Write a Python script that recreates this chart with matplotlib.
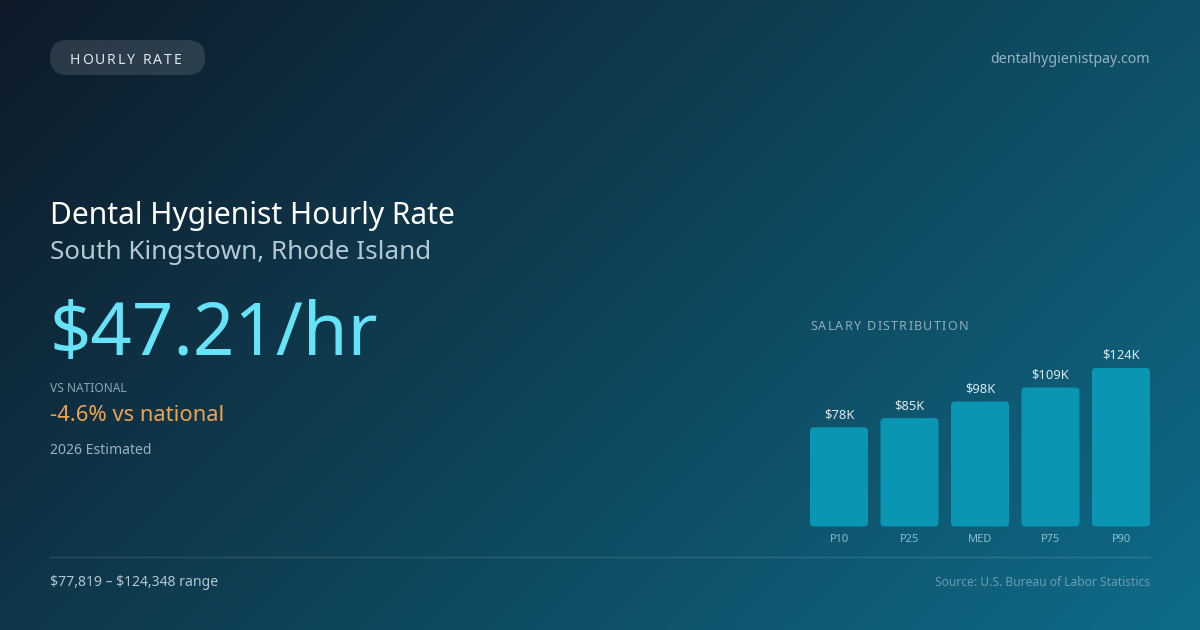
import numpy as np
import matplotlib
matplotlib.use("Agg")
import matplotlib.pyplot as plt
from matplotlib.patches import FancyBboxPatch
from matplotlib.font_manager import FontProperties

plt.rcParams['font.family'] = ['Noto Sans', 'DejaVu Sans']

# data
categories = ["P10", "P25", "MED", "P75", "P90"]
salary_k = [77.819, 85, 98, 109, 124.348]
bar_labels = ["$78K", "$85K", "$98K", "$109K", "$124K"]

badge = "HOURLY RATE"
site = "dentalhygienistpay.com"
title = "Dental Hygienist Hourly Rate"
subtitle = "South Kingstown, Rhode Island"
hourly = "$47.21/hr"
vs_label = "VS NATIONAL"
vs_text = "-4.6% vs national"
estimate = "2026 Estimated"
range_text = "$77,819 \u2013 $124,348 range"
source = "Source: U.S. Bureau of Labor Statistics"

W, H = 1200, 630
DPI = 100


def pt(px):
    return px * 72 / DPI


def spaced_text(ax, renderer, x, y, s, size, color, spacing, **kw):
    # draw text char by char with extra letter spacing (pixel coords)
    prop = FontProperties(family=['Noto Sans', 'DejaVu Sans'], size=size)
    for i, ch in enumerate(s):
        w = renderer.get_text_width_height_descent(s[:i], prop, ismath=False)[0] if i else 0
        ax.text(x + w + i * spacing, y, ch, fontproperties=prop,
                color=color, va='baseline', ha='left', **kw)


fig = plt.figure(figsize=(W / DPI, H / DPI), dpi=DPI)
renderer = fig.canvas.get_renderer()

bg = fig.add_axes([0, 0, 1, 1])
bg.set_xlim(0, W)
bg.set_ylim(H, 0)
bg.axis("off")

# diagonal gradient background (135deg)
yy, xx = np.mgrid[0:H, 0:W]
L = (W + H) * 0.7071
t = ((xx - W / 2) * 0.7071 + (yy - H / 2) * 0.7071) / L + 0.5
c0 = np.array([14, 26, 40]) / 255
c1 = np.array([14, 108, 137]) / 255
img = c0[None, None, :] * (1 - t[..., None]) + c1[None, None, :] * t[..., None]
bg.imshow(img, extent=[0, W, H, 0], aspect='auto', zorder=0)

# badge
bg.add_patch(FancyBboxPatch((50, 40), 155, 35, boxstyle="round,pad=0,rounding_size=17.5",
                            fc=(1, 1, 1, 0.12), ec='none', zorder=1))
spaced_text(bg, renderer, 70, 63.5, badge, pt(14), '#dfe7ec', 1.85, zorder=2)

txt = dict(va='baseline', parse_math=False)
bg.text(1150, 63, site, ha='right', fontsize=pt(14.2), color='#94b3c2', **txt)

bg.text(50, 224, title, ha='left', fontsize=pt(30), color='#ffffff', **txt)
bg.text(50, 259, subtitle, ha='left', fontsize=pt(26), color='#b3c8d3', **txt)
bg.text(49, 355, hourly, ha='left', fontsize=pt(72.5), color='#67e3f9', **txt)
bg.text(50, 392, vs_label, ha='left', fontsize=pt(12), color='#8ea5b3', **txt)
bg.text(50, 421, vs_text, ha='left', fontsize=pt(22), color='#eea24f', **txt)
bg.text(50, 454, estimate, ha='left', fontsize=pt(14), color='#9ab0bd', **txt)

bg.plot([50, 1150], [556.5, 556.5], color=(1, 1, 1, 0.12), lw=1)
bg.text(50, 586, range_text, ha='left', fontsize=pt(14), color='#b3c6d0', **txt)
bg.text(1150, 586, source, ha='right', fontsize=pt(12.05), color='#6f9db0', **txt)

spaced_text(bg, renderer, 810, 330, "SALARY DISTRIBUTION", pt(12.5), '#90aebd', 1.28)

# bar chart
ax = fig.add_axes([810 / W, (H - 526.5) / H, 340 / W, 180 / H])
ax.patch.set_alpha(0)
for s in ax.spines.values():
    s.set_visible(False)
ax.set_xticks([])
ax.set_yticks([])
x = np.arange(len(categories))
bw = 58 / 70.5
ax.set_xlim(-bw / 2, len(categories) - 1 + bw / 2)
ymax = 180 / 1.275
ax.set_ylim(0, ymax)
bars = ax.bar(x, salary_k, width=bw, color='none')
px_x = 340 / (len(categories) - 1 + bw)
px_y = 180 / ymax
for b, lab, cat in zip(bars, bar_labels, categories):
    bx, by, bwid, bh = b.get_x(), b.get_y(), b.get_width(), b.get_height()
    r = 4 / px_x
    ax.add_patch(FancyBboxPatch((bx, by), bwid, bh,
                                boxstyle=f"round,pad=0,rounding_size={r}",
                                mutation_aspect=px_x / px_y,
                                fc='#0a96b2', ec='none'))
    ax.annotate(lab, (bx + bwid / 2, bh), xytext=(0, 6), textcoords='offset pixels',
                ha='center', va='bottom', fontsize=pt(13), color='#dbe8ee',
                parse_math=False)
    ax.annotate(cat, (bx + bwid / 2, 0), xytext=(0, -8), textcoords='offset pixels',
                ha='center', va='top', fontsize=pt(11), color='#8cbfd0',
                annotation_clip=False)

fig.savefig("out.png", dpi=DPI)
